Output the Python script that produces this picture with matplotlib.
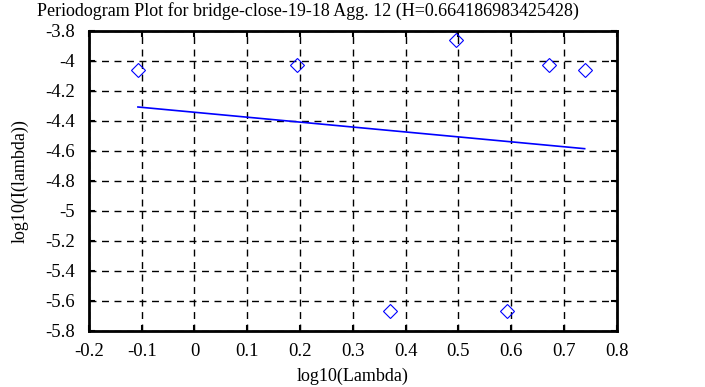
import matplotlib
matplotlib.use("Agg")
import matplotlib.pyplot as plt

plt.rcParams["font.family"] = ["Liberation Serif", "DejaVu Serif"]

# pontos do periodograma
log_lambda = [-0.107, 0.194, 0.495, 0.671, 0.739, 0.370, 0.592]
log_i = [-4.06, -4.027, -3.86, -4.03, -4.06, -5.665, -5.665]

# reta ajustada
fit_x = [-0.107, 0.739]
fit_y = [-4.307, -4.585]

fig = plt.figure(figsize=(7.05, 3.87), dpi=100)
ax = fig.add_axes([0.126, 0.145, 0.749, 0.775])

ax.plot(log_lambda, log_i, linestyle="none", marker="D", markersize=7,
        markerfacecolor="none", markeredgecolor="blue", markeredgewidth=0.8)
ax.plot(fit_x, fit_y, color="blue", linewidth=1.2)

ax.set_xlim(-0.2, 0.8)
ax.set_ylim(-5.8, -3.8)
ax.set_xticks([-0.2, -0.1, 0, 0.1, 0.2, 0.3, 0.4, 0.5, 0.6, 0.7, 0.8])
ax.set_xticklabels(["-0.2", "-0.1", "0", "0.1", "0.2", "0.3", "0.4", "0.5", "0.6", "0.7", "0.8"])
ax.set_yticks([-5.8, -5.6, -5.4, -5.2, -5, -4.8, -4.6, -4.4, -4.2, -4, -3.8])
ax.set_yticklabels(["-5.8", "-5.6", "-5.4", "-5.2", "-5", "-4.8", "-4.6", "-4.4", "-4.2", "-4", "-3.8"])
ax.tick_params(direction="in", length=4, width=1.5, top=True, right=True,
               labelsize=13.5)
ax.tick_params(axis="y", pad=10)
ax.tick_params(axis="x", pad=9)
ax.grid(True, color="black", linestyle=(0, (5, 4)), linewidth=1)
for s in ax.spines.values():
    s.set_linewidth(2)

# titulo deslocado para a esquerda como no original
fig.text(0.437, 0.972, "Periodogram Plot for bridge-close-19-18 Agg. 12 (H=0.664186983425428)",
         fontsize=13, ha="center", va="center")
ax.set_xlabel("log10(Lambda)", fontsize=13, labelpad=5)
ax.set_ylabel("log10(I(lambda))", fontsize=13, labelpad=12)

fig.savefig("out.png", dpi=100)
